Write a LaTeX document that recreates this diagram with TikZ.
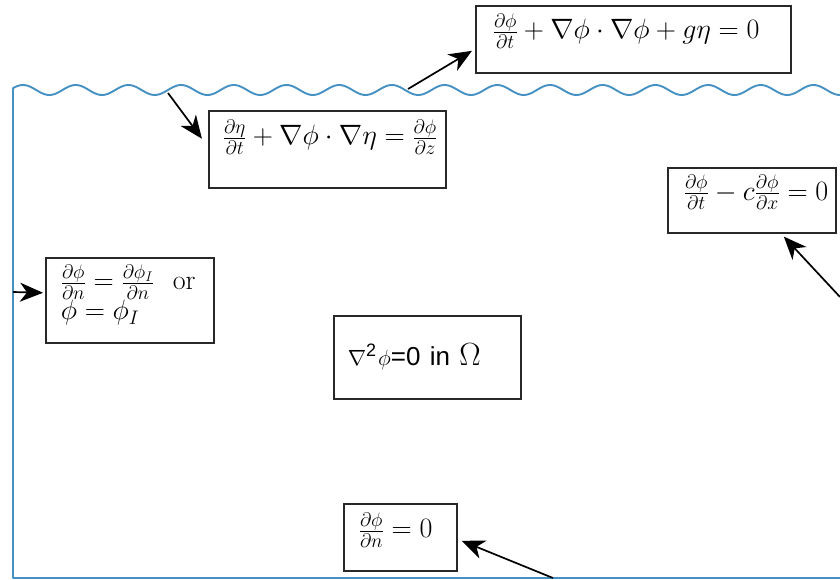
\RequirePackage{fix-cm}
\documentclass[tikz,border=0pt]{standalone}
\usepackage{fontspec}
\newfontfamily\arialfont{Liberation Sans}
\usetikzlibrary{arrows.meta}
\definecolor{water}{RGB}{70,145,195}
\definecolor{boxline}{RGB}{40,40,40}
\begin{document}
\begin{tikzpicture}[x=1pt,y=-1pt,
  eqbox/.style={draw=boxline, line width=1.6pt, anchor=north west, inner ysep=0pt,
    align=left, font=\fontsize{28}{33}\selectfont},
  arr/.style={draw=black, line width=1.7pt, -{Stealth[length=23pt,width=19pt,inset=7pt]}},
  waterline/.style={draw=water, line width=1.9pt, line join=round}]
\useasboundingbox (0,0) rectangle (840,580);
% water domain
\draw[waterline] (840,578) -- (13,578) -- plot[domain=13:840,samples=400] (\x,{90-5*cos(6.83112*(\x-23))});
% boxes
\node[eqbox, inner xsep=17pt, text width=281pt, text height=33pt, text depth=34pt] (bern) at (475,5)
  {\mbox{$\frac{\partial\phi}{\partial t}+\nabla\phi\cdot\nabla\phi+g\eta=0$}};
\node[eqbox, inner xsep=14pt, text width=209pt, text height=34pt, text depth=43pt] (kin) at (208,110)
  {\mbox{$\frac{\partial\eta}{\partial t}+\nabla\phi\cdot\nabla\eta=\frac{\partial\phi}{\partial z}$}};
\node[eqbox, inner xsep=16pt, text width=136pt, text height=32.5pt, text depth=32.5pt] (rad) at (667,167)
  {\mbox{$\frac{\partial\phi}{\partial t}-c\frac{\partial\phi}{\partial x}=0$}};
\node[eqbox, inner xsep=15pt, text width=138pt, text height=32pt, text depth=53pt] (side) at (45,257)
  {\mbox{$\frac{\partial\phi}{\partial n}=\frac{\partial\phi_I}{\partial n}$\ \ or}\\[-3pt]\mbox{$\phi=\phi_I$}};
\node[eqbox, inner xsep=14pt, text width=159pt, text height=50pt, text depth=33pt] (lap) at (333,315)
  {\mbox{{\fontsize{22}{26}\selectfont$\nabla$}\raisebox{9pt}{\arialfont\fontsize{18}{20}\selectfont 2}\hspace{2pt}{\fontsize{22}{26}\selectfont$\phi$}{\arialfont\fontsize{26}{28}\selectfont=0 in }{\fontsize{32}{36}\selectfont$\Omega$}}};
\node[eqbox, inner xsep=15pt, text width=83pt, text height=34pt, text depth=33pt] (bot) at (343,503)
  {\mbox{$\frac{\partial\phi}{\partial n}=0$}};
% connector ends
\coordinate (wa) at (408,89);
\coordinate (wb) at (168,93);
\coordinate (rc) at (840,297);
\coordinate (wd) at (13,292);
\coordinate (be) at (553,578);
% arrows
\draw[arr] (wa) -- ([xshift=-3pt,yshift=-11.5pt]bern.west);
\draw[arr] (wb) -- ([xshift=-6pt,yshift=10.5pt]kin.west);
\draw[arr] (rc) -- ([xshift=32pt,yshift=-3pt]rad.south);
\draw[arr] (wd) -- ([xshift=-2pt,yshift=7.5pt]side.west);
\draw[arr] (be) -- ([xshift=4pt,yshift=-3.5pt]bot.east);
\end{tikzpicture}
\end{document}
